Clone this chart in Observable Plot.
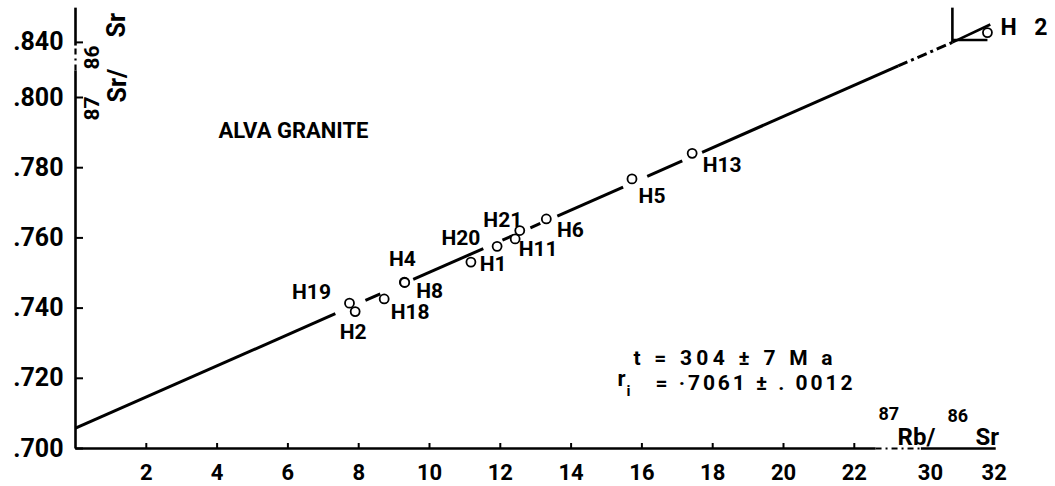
<!DOCTYPE html>
<html><head><meta charset="utf-8">
<script src="https://cdn.jsdelivr.net/npm/d3@7"></script>
<script src="https://cdn.jsdelivr.net/npm/@observablehq/plot@0.6"></script>
<style>
html,body{margin:0;padding:0;background:#fff;}
#chart{width:1055px;height:486px;overflow:hidden;}
</style></head><body><div id="chart"></div>
<script>
// ---- data ----
const sampleIds = ["H19","H2","H18","H4","H8","H20","H1","H11","H21","H6","H5","H13","H2"];
const rbSr = [7.74, 7.90, 8.72, 9.29, 9.30, 11.17, 11.91, 12.42, 12.55, 13.30, 15.72, 17.42, 31.79];
const srSr = [0.7414, 0.7390, 0.7426, 0.7474, 0.7473, 0.7531, 0.7576, 0.7597, 0.7621, 0.7654, 0.7768, 0.7841, 0.8428];

// isochron as drawn (end points, lower panel and upper broken panel)
const isoX = [0, 23.24];
const isoY = [0.7058, 0.8090];
const isoUpX = [30.69, 31.88];
const isoUpY = [0.8400, 0.8451];
// stretches of Rb/Sr where the drawn line is interrupted
const lineGaps = [[7.34, 8.19], [8.61, 9.54], [11.52, 12.06], [12.37, 12.85], [13.13, 13.61], [15.47, 16.15], [17.14, 17.70]];
// corner marks around H2 in the upper panel
const cornerX = [30.69, 31.79];
const cornerY = [0.8400, 0.8407, 0.8499];

// axis runs (real values): start, break begin, break end, end
const yAxisRun = [0.700, 0.8077, 0.8391, 0.8499];
const xAxisRun = [0, 22.6, 29.7, 32.05];

const xTickValues = [2, 4, 6, 8, 10, 12, 14, 16, 18, 20, 22, 30, 32];
const xTickLabels = ["2","4","6","8","10","12","14","16","18","20","22","30","32"];
const xTickMarks = [2, 4, 6, 8, 10, 12, 14, 16, 18, 20, 22];
const yTickValues = [0.700, 0.720, 0.740, 0.760, 0.780, 0.800, 0.840];
const yTickLabels = [".700", ".720", ".740", ".760", ".780", ".800", ".840"];

const title = "ALVA GRANITE";
const age = 304, ageErr = 7, ri = 0.7061, riErr = 0.0012;

// label offsets (style)
const labelDx = [-38, -2, 26, -2, 25, -10, -4, 23, -17, 24, 20, 30, 13];
const labelDy = [-11, 21, 13, -23, 9, -24, 18, 10, -10, 11, 17, 12, -5];

// ---- broken-axis mapping ----
function xd(x) { return x < 26 ? x : 24.15 + (x - 30) * 0.9; }
function yd(v) { return v < 0.82 ? v : 0.8157 + (v - 0.840); }

const W = 1055, H = 486, mL = 75, mR = 45, mT = 7, mB = 38;
const frameW = W - mL - mR, frameH = H - mT - mB;
const font = "Roboto, 'DejaVu Sans', sans-serif";

const samples = sampleIds.map((id, i) => ({id, x: xd(rbSr[i]), y: yd(srSr[i]), dx: labelDx[i], dy: labelDy[i], i}));
const lastIdx = samples.length - 1;

const isoAt = x => isoY[0] + (x - isoX[0]) * (isoY[1] - isoY[0]) / (isoX[1] - isoX[0]);
const cuts = [isoX[0], ...lineGaps.flat(), isoX[1]];
const isoSegs = [];
for (let k = 0; k < cuts.length; k += 2) {
  isoSegs.push({x1: xd(cuts[k]), y1: yd(isoAt(cuts[k])), x2: xd(cuts[k+1]), y2: yd(isoAt(cuts[k+1]))});
}
const upperSegs = [
  {x1: xd(isoUpX[0]), y1: yd(isoUpY[0]), x2: xd(isoUpX[1]), y2: yd(isoUpY[1])},
  {x1: xd(cornerX[0]), y1: yd(cornerY[0]), x2: xd(cornerX[0]), y2: yd(cornerY[2])},
  {x1: xd(cornerX[0]), y1: yd(cornerY[1]), x2: xd(cornerX[1]), y2: yd(cornerY[1])}
];
const connector = [{x1: xd(isoX[1]), y1: yd(isoY[1]), x2: xd(isoUpX[0]), y2: yd(isoUpY[0])}];

const solidAxis = [
  {x1: xd(0), y1: yd(yAxisRun[0]), x2: xd(0), y2: yd(yAxisRun[1])},
  {x1: xd(0), y1: yd(yAxisRun[2]), x2: xd(0), y2: yd(yAxisRun[3])},
  {x1: xd(xAxisRun[0]), y1: yd(0.7), x2: xd(xAxisRun[1]), y2: yd(0.7)},
  {x1: xd(xAxisRun[2]), y1: yd(0.7), x2: xd(xAxisRun[3]), y2: yd(0.7)}
];
const dashedAxis = [
  {x1: xd(0), y1: yd(yAxisRun[1]), x2: xd(0), y2: yd(yAxisRun[2])},
  {x1: xd(xAxisRun[1]), y1: yd(0.7), x2: xd(xAxisRun[2]), y2: yd(0.7)}
];

const xLab = new Map(xTickValues.map((v, i) => [xd(v), xTickLabels[i]]));
const yLab = new Map(yTickValues.map((v, i) => [yd(v), yTickLabels[i]]));
const link = {x1: "x1", y1: "y1", x2: "x2", y2: "y2"};
const tA = (txt, dx, dy, o = {}) => Plot.text([txt], {frameAnchor: "top-left", lineAnchor: "middle", dx, dy, textAnchor: "start", fill: "#000", ...o});

const tLine = `t = ${age} ± ${ageErr} M a`;
const rLine = `= ${ri.toFixed(4).slice(1).replace(".", "·")} ± . ${riErr.toFixed(4).slice(2)}`;

const labelMarks = samples.map(d => Plot.text([d], {
  x: "x", y: "y", text: "id", dx: d.dx, dy: d.dy, fill: "#000",
  fontSize: d.i === lastIdx ? 23 : 21,
  textAnchor: d.i === lastIdx ? "start" : "middle"
}));

const chart = Plot.plot({
  width: W, height: H, marginLeft: mL, marginRight: mR, marginTop: mT, marginBottom: mB,
  style: {fontFamily: font, fontSize: "22px", fontWeight: 700, color: "#000", background: "#fff", overflow: "visible"},
  x: {domain: [0, frameW / 35.4]},
  y: {domain: [0.700, 0.700 + frameH / 3510]},
  marks: [
    Plot.axisX({ticks: xTickValues.map(xd), tickFormat: d => xLab.get(d), tickSize: 0, tickPadding: 16, fontSize: 22, fontWeight: 700}),
    Plot.axisY({ticks: yTickValues.map(yd), tickFormat: d => yLab.get(d), tickSize: 0, tickPadding: 12, fontSize: 25, fontWeight: 700}),
    Plot.tickX(xTickMarks.map(xd), {x: d => d, insetTop: frameH - 5, strokeWidth: 2}),
    Plot.tickY(yTickValues.map(yd), {y: d => d, insetRight: frameW - 8, strokeWidth: 2}),
    Plot.link(solidAxis, {...link, strokeWidth: 2.6, stroke: "#000"}),
    Plot.link(dashedAxis, {...link, strokeWidth: 2.2, stroke: "#000", strokeDasharray: "6,4,2,4"}),
    Plot.link(isoSegs, {...link, strokeWidth: 3, stroke: "#000"}),
    Plot.link(connector, {...link, strokeWidth: 3, stroke: "#000", strokeDasharray: "10,4,3,4"}),
    Plot.link(upperSegs, {...link, strokeWidth: 2.6, stroke: "#000"}),
    Plot.dot(samples, {x: "x", y: "y", r: 4.5, fill: "#fff", stroke: "#000", strokeWidth: 1.8}),
    ...labelMarks,
    // y-axis title 87Sr/86Sr (rotated)
    tA("Sr/", 42, 95, {rotate: -90, fontSize: 25}),
    tA("Sr", 41, 30, {rotate: -90, fontSize: 25}),
    tA("87", 17, 113, {rotate: -90, fontSize: 21}),
    tA("86", 17, 62, {rotate: -90, fontSize: 21}),
    // x-axis title 87Rb/86Sr
    tA("87", 803, 407, {fontSize: 18}),
    tA("Rb/", 822, 430, {fontSize: 24}),
    tA("86", 872, 409, {fontSize: 18}),
    tA("Sr", 900, 430, {fontSize: 24}),
    // title and statistics
    tA(title, 143, 123, {fontSize: 22}),
    tA(tLine, 558, 350.5, {fontSize: 21}),
    tA("r", 542, 371, {fontSize: 22}),
    tA("i", 551, 384, {fontSize: 15}),
    tA(rLine, 580, 375.5, {fontSize: 21})
  ]
});
document.getElementById("chart").appendChild(chart);

// spread-out texts: stretch spacing to the widths seen in the figure
chart.querySelectorAll("text").forEach(t => {
  const s = t.textContent;
  const spread = len => { t.setAttribute("textLength", len); t.setAttribute("lengthAdjust", "spacing"); };
  if (s === tLine) spread(199);
  else if (s === rLine) spread(197);
  else if (s === "H2" && t.getBoundingClientRect().left > 900) spread(47);
});
</script></body></html>
